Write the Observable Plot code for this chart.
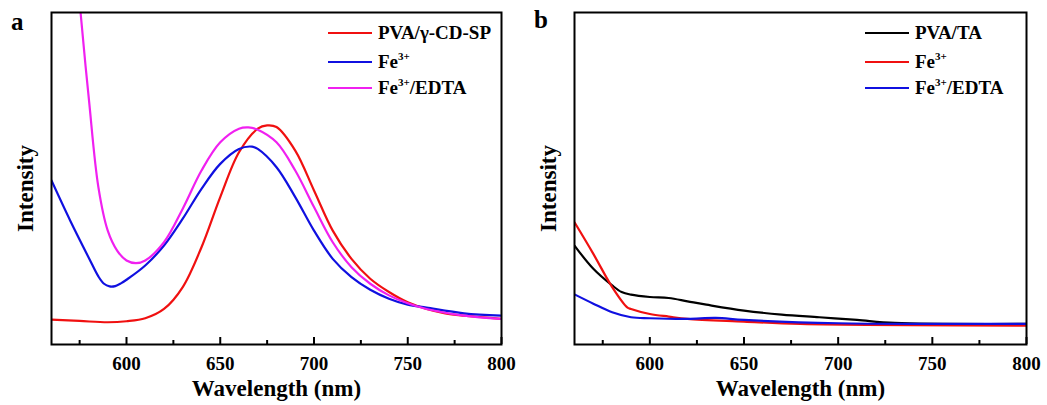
<!DOCTYPE html>
<html>
<head>
<meta charset="utf-8">
<script src="https://cdn.jsdelivr.net/npm/d3@7"></script>
<script src="https://cdn.jsdelivr.net/npm/@observablehq/plot@0.6"></script>
<style>
  html, body { margin: 0; padding: 0; background: #fff; }
  #wrap { position: relative; width: 1047px; height: 405px; font-family: "Liberation Serif", serif; font-weight: bold; }
  #plots { display: flex; }
  .legend { position: absolute; font-size: 19px; color: #000; }
  .legend .row { position: absolute; white-space: nowrap; display: flex; align-items: center; height: 20px; }
  .legend .swatch { display: inline-block; width: 44px; height: 2.5px; margin-right: 6px; }
  .legend sup { font-size: 11px; vertical-align: 8px; line-height: 0; }
  .panel { position: absolute; font-size: 25px; }
</style>
</head>
<body>
<div id="wrap">
  <div id="plots"></div>
</div>
<script>
// ---- Data (wavelength nm, relative intensity a.u.) ----
const aPVA = [[560,7.5],[575,7.1],[590,6.7],[600,7.0],[610,7.9],[620,10.7],[630,17.3],[640,29.3],[650,44.4],[660,57.9],[670,65.0],[675,66.0],[680,65.5],[690,58.4],[700,46.4],[710,34.3],[720,25.8],[730,19.8],[740,15.8],[750,12.7],[760,10.7],[770,9.4],[780,8.7],[790,8.2],[800,7.7]];
const aFe = [[560,49.4],[570,37.3],[580,26.0],[585,20.5],[588,18.3],[591,17.5],[594,17.6],[597,18.4],[600,19.5],[610,23.8],[620,29.8],[630,37.9],[640,46.9],[650,54.4],[660,58.9],[667,59.6],[670,58.9],[680,53.4],[690,44.4],[700,34.3],[710,25.8],[720,20.3],[730,16.5],[740,13.8],[750,12.0],[760,11.1],[780,9.4],[800,8.7]];
const aFeEDTA = [[572,125],[575.5,100],[580,73.5],[585,47.4],[590,34.3],[595,28.3],[600,25.3],[605,24.5],[610,25.3],[620,30.8],[630,40.9],[640,52.4],[650,60.9],[660,65.0],[665,65.4],[670,64.7],[680,60.9],[690,52.4],[700,41.4],[710,30.8],[720,23.3],[730,18.3],[740,14.8],[750,12.4],[760,10.7],[780,8.7],[800,7.7]];

const bPVATA = [[560,29.8],[570,22.8],[580,17.8],[585,15.8],[590,15.0],[600,14.3],[610,14.0],[620,13.0],[630,12.0],[650,10.2],[670,9.0],[690,8.2],[710,7.4],[730,6.5],[800,6.2]];
const bFe = [[560,36.8],[570,27.3],[580,17.3],[588,11.2],[590,10.7],[600,9.2],[610,8.4],[620,7.7],[650,6.9],[680,6.2],[800,5.7]];
const bFeEDTA = [[560,15.1],[570,12.3],[580,9.7],[590,8.2],[600,7.9],[620,7.7],[635,8.0],[650,7.4],[700,6.4],[750,6.2],[800,6.2]];

const majorTicks = [600, 650, 700, 750, 800];
const minorTicks = [575, 625, 675, 725, 775];
const xLabel = "Wavelength (nm)";
const yLabel = "Intensity";

const legendA = [["PVA/γ-CD-SP", "", "#f01010"], ["Fe", "3+", "#1010e0"], ["Fe", "3+", "#f020f0", "/EDTA"]];
const legendB = [["PVA/TA", "", "#000000"], ["Fe", "3+", "#f01010"], ["Fe", "3+", "#1010e0", "/EDTA"]];

function panel(series, width, marginLeft, marginRight) {
  const frameH = 405 - 12 - 61;
  return Plot.plot({
    width, height: 405,
    marginLeft, marginRight, marginTop: 12, marginBottom: 61,
    style: { fontFamily: "Liberation Serif", fontWeight: "bold", fontSize: "19px", color: "#000", background: "#fff" },
    x: { domain: [560, 800], axis: null },
    y: { domain: [0, 100], axis: null },
    marks: [
      ...series.map(([data, color]) => Plot.line(data, { x: d => d[0], y: d => d[1], stroke: color, strokeWidth: 2.2, curve: "catmull-rom", clip: true })),
      Plot.tickX(majorTicks, { x: d => d, insetTop: frameH - 7, stroke: "#000", strokeWidth: 2 }),
      Plot.tickX(minorTicks, { x: d => d, insetTop: frameH - 4, stroke: "#000", strokeWidth: 2 }),
      Plot.axisX(majorTicks, { tickSize: 0, tickPadding: 12, label: null, fontSize: 19, fill: "#000" }),
      Plot.text([xLabel], { frameAnchor: "bottom", lineAnchor: "middle", dy: 44, text: d => d, fontSize: 23, fill: "#000" }),
      Plot.text([yLabel], { frameAnchor: "left", textAnchor: "middle", lineAnchor: "middle", dx: -26, dy: 10, rotate: -90, text: d => d, fontSize: 23, fill: "#000" }),
      Plot.frame({ stroke: "#000", strokeWidth: 2 })
    ]
  });
}

const plots = document.getElementById("plots");
plots.appendChild(panel([[aPVA, "#f01010"], [aFe, "#1010e0"], [aFeEDTA, "#f020f0"]], 523, 51, 22));
plots.appendChild(panel([[bPVATA, "#000000"], [bFe, "#f01010"], [bFeEDTA, "#1010e0"]], 524, 51, 21));

function legend(items, left, top) {
  const wrap = document.getElementById("wrap");
  const lg = document.createElement("div");
  lg.className = "legend";
  lg.style.left = left + "px";
  lg.style.top = top + "px";
  const rowY = [0, 29, 55];
  items.forEach(([t, sup, color, tail], i) => {
    const row = document.createElement("div");
    row.className = "row";
    row.style.top = rowY[i] + "px";
    row.innerHTML = `<span class="swatch" style="background:${color}"></span><span>${t}${sup ? `<sup>${sup}</sup>` : ""}${tail || ""}</span>`;
    lg.appendChild(row);
  });
  wrap.appendChild(lg);
}
legend(legendA, 328, 23);
legend(legendB, 865, 23);

function panelLabel(t, left, top) {
  const d = document.createElement("div");
  d.className = "panel";
  d.textContent = t;
  d.style.left = left + "px";
  d.style.top = top + "px";
  document.getElementById("wrap").appendChild(d);
}
panelLabel("a", 11, 8);
panelLabel("b", 534, 6);
</script>
</body>
</html>
